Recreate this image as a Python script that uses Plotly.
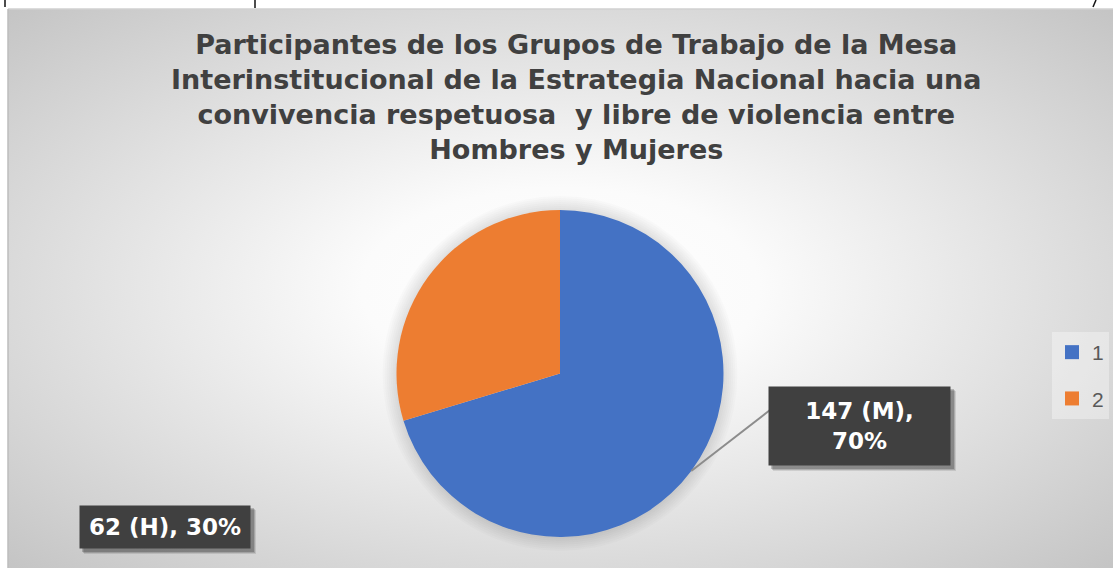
import base64
import math
import plotly.graph_objects as go

# ---- data ----
categories = ["1", "2"]
sex_codes = ["M", "H"]
values = [147, 62]
colors = ["#4472C4", "#ED7D31"]
title_lines = [
    "Participantes de los Grupos de Trabajo de la Mesa",
    "Interinstitucional de la Estrategia Nacional hacia una",
    "convivencia respetuosa  y libre de violencia entre",
    "Hombres y Mujeres",
]

W, H = 1113, 568


def px(x):
    return x / W


def py(y_top):
    return (H - y_top) / H


# chart area (pixels)
AX0, AY0 = 8, 9
# pie geometry (pixels from top-left)
PCX, PCY, PR = 560, 373.5, 163.5

total = sum(values)
pcts = [round(v / total * 100) for v in values]
label_texts = [f"{v} ({s}), {p}%" for v, s, p in zip(values, sex_codes, pcts)]

# background radial gradient as svg image
svg = f"""<svg xmlns='http://www.w3.org/2000/svg' width='{W-AX0}' height='{H-AY0}' viewBox='0 0 100 100' preserveAspectRatio='none'>
<defs><radialGradient id='g' cx='0.5' cy='0.5' r='0.72' gradientUnits='objectBoundingBox'>
<stop offset='0' stop-color='#ffffff'/>
<stop offset='0.25' stop-color='#fbfbfb'/>
<stop offset='0.65' stop-color='#dddddd'/>
<stop offset='1' stop-color='#c3c3c3'/>
</radialGradient></defs>
<rect x='0' y='0' width='100' height='100' fill='url(#g)'/>
</svg>"""
svg_uri = "data:image/svg+xml;base64," + base64.b64encode(svg.encode()).decode()

fig = go.Figure()
fig.add_trace(go.Pie(
    labels=categories,
    values=values,
    marker=dict(colors=colors, line=dict(width=0)),
    sort=False,
    direction="clockwise",
    rotation=0,
    textinfo="none",
    hoverinfo="label+value+percent",
    showlegend=False,
    domain=dict(x=[px(PCX - PR), px(PCX + PR)], y=[py(PCY + PR), py(PCY - PR)]),
))

# legend entries (one group per category so the spacing can match)
for cat, col in zip(categories, colors):
    fig.add_trace(go.Scatter(
        x=[None], y=[None], mode="markers", name=cat, legendgroup=cat,
        marker=dict(symbol="square", size=14, color=col), hoverinfo="skip",
    ))

shapes = []
# soft shadow around pie
for k in range(7):
    rr = PR + 2 + k * 2
    shapes.append(dict(type="circle", xref="paper", yref="paper",
                       x0=px(PCX - rr), x1=px(PCX + rr), y0=py(PCY + rr), y1=py(PCY - rr),
                       fillcolor="rgba(0,0,0,0.015)", line=dict(width=0), layer="below"))

# top border line and screenshot fragments
shapes.append(dict(type="line", xref="paper", yref="paper", x0=px(AX0), x1=1, y0=py(AY0), y1=py(AY0),
                   line=dict(color="#d0d0d0", width=1.5)))
shapes.append(dict(type="line", xref="paper", yref="paper", x0=px(AX0), x1=px(AX0), y0=0, y1=py(AY0),
                   line=dict(color="#bdbdbd", width=1.5)))
for (x0, y0, x1, y1) in [(5, 0, 5, 7), (255, 0, 255, 8), (1096, 0, 1093, 7)]:
    shapes.append(dict(type="line", xref="paper", yref="paper", x0=px(x0), x1=px(x1), y0=py(y0), y1=py(y1),
                       line=dict(color="#111111", width=1.5)))

# leader line from middle of slice 1 to its label
theta = (values[0] / 2) / total * 2 * math.pi
lx0 = PCX + PR * math.sin(theta)
ly0 = PCY - PR * math.cos(theta)
shapes.append(dict(type="line", xref="paper", yref="paper", x0=px(lx0), y0=py(ly0), x1=px(770), y1=py(410),
                   line=dict(color="#8c8c8c", width=2)))

# label boxes (pixels: center x, center y, width, height)
boxes = [(859.5, 426, 181, 78), (165, 527, 170, 42)]
for (bx, by, bw, bh) in boxes:
    for off, a in [(6, 0.10), (5, 0.15), (4, 0.2)]:
        shapes.append(dict(type="rect", xref="paper", yref="paper",
                           x0=px(bx - bw / 2 + off - 2), x1=px(bx + bw / 2 + off),
                           y0=py(by + bh / 2 + off), y1=py(by - bh / 2 + off - 2),
                           fillcolor=f"rgba(0,0,0,{a})", line=dict(width=0)))

annotations = [dict(
    text="<br>".join(title_lines), xref="paper", yref="paper", x=px(576), y=py(97),
    xanchor="center", yanchor="middle", showarrow=False, align="center",
    font=dict(family="DejaVu Sans", size=27, color="#404040", weight="bold"),
)]
label_lines = [label_texts[0].replace(", ", ",<br>", 1), label_texts[1]]
for (bx, by, bw, bh), t in zip(boxes, label_lines):
    annotations.append(dict(
        text=t, xref="paper", yref="paper", x=px(bx), y=py(by), xanchor="center", yanchor="middle",
        showarrow=False, align="center", width=bw - 6, height=bh - 6, borderpad=3, valign="middle",
        bgcolor="#404040", font=dict(family="DejaVu Sans", size=23, color="#ffffff", weight="bold"),
    ))

fig.update_layout(
    width=W, height=H, margin=dict(l=0, r=0, t=0, b=0),
    paper_bgcolor="#ffffff",
    plot_bgcolor="rgba(0,0,0,0)",
    xaxis=dict(visible=False),
    yaxis=dict(visible=False),
    images=[dict(source=svg_uri, xref="paper", yref="paper", x=px(AX0), y=py(AY0),
                 sizex=1 - px(AX0), sizey=py(AY0), xanchor="left", yanchor="top",
                 sizing="stretch", layer="below")],
    shapes=shapes,
    annotations=annotations,
    showlegend=True,
    legend=dict(x=px(1052), y=py(332), xanchor="left", yanchor="top",
                bgcolor="rgba(255,255,255,0.35)", borderwidth=0, tracegroupgap=16,
                traceorder="grouped",
                font=dict(family="Liberation Sans", size=21, color="#595959"),
                itemclick=False, itemdoubleclick=False),
)

fig.write_html("out.html")
